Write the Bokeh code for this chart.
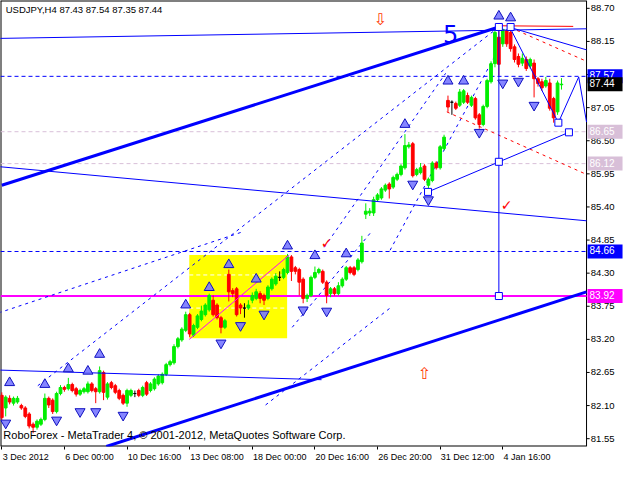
from bokeh.plotting import figure
from bokeh.models import Range1d, FixedTicker
from bokeh.core.properties import value
from bokeh.embed import file_html
from bokeh.resources import INLINE

# ---------------- data (H4 candles, bar index 0 = 3 Dec 2012) ----------------
opens = [82.27,82.06,82.22,82.14,82.16,82.10,82.06,81.96,81.79,81.74,81.79,81.87,82.22,82.19,82.00,82.30,82.40,82.38,82.45,82.38,
         82.29,82.33,82.33,82.46,82.38,82.33,82.65,82.24,82.48,82.43,82.35,82.27,82.14,82.27,82.30,82.35,82.27,82.48,82.35,82.38,
         82.46,82.48,82.62,82.78,82.81,83.08,83.19,83.35,83.61,83.27,83.40,83.53,83.61,83.69,83.85,83.77,83.56,83.40,84.28,84.01,
         84.04,83.77,83.72,83.72,83.85,83.88,83.96,83.93,83.88,84.04,84.12,84.23,84.23,84.31,84.57,84.39,84.36,84.20,83.88,83.93,
         84.23,84.31,84.33,84.15,83.96,84.04,83.96,84.09,84.20,84.39,84.39,84.36,84.49,85.28,85.30,85.30,85.52,85.55,85.68,85.78,
         85.73,85.86,85.94,86.05,86.40,86.45,85.94,85.97,86.08,85.76,85.84,86.13,86.05,86.37,87.17,87.14,87.12,87.09,87.14,87.25,
         87.09,87.20,86.93,86.77,87.07,87.48,87.78,88.22,88.11,88.33,88.30,88.06,87.90,87.79,87.85,87.74,87.79,87.53,87.48,87.41,
         87.46,87.20,86.98,87.43]
highs = [82.32,82.27,82.27,82.25,82.26,82.13,82.09,81.99,81.82,81.87,81.90,82.30,82.25,82.22,82.33,82.44,82.43,82.56,82.48,82.41,
         82.38,82.41,82.50,82.49,82.41,82.75,82.68,82.49,82.51,82.46,82.38,82.30,82.38,82.38,82.35,82.38,82.43,82.51,82.49,82.57,
         82.62,82.65,82.81,82.86,83.12,83.24,83.40,83.66,83.64,83.46,83.62,83.76,83.80,83.96,83.93,83.80,83.59,83.54,84.36,84.05,
         84.07,83.80,83.80,83.85,83.98,84.04,84.00,83.96,84.10,84.23,84.30,84.33,84.39,84.62,84.60,84.42,84.39,84.23,83.96,84.26,
         84.41,84.39,84.36,84.18,84.07,84.07,84.15,84.23,84.42,84.42,84.42,84.55,84.92,85.46,85.38,85.57,85.63,85.73,85.79,85.81,
         85.92,85.97,86.11,86.61,86.48,86.48,86.05,86.13,86.11,85.89,86.16,86.16,86.43,86.60,87.25,87.17,87.15,87.36,87.36,87.30,
         87.25,87.23,86.96,87.10,87.53,87.82,88.38,88.42,88.36,88.35,88.40,88.10,87.95,87.95,87.90,87.88,87.85,87.56,87.53,87.56,
         87.53,87.23,87.50,87.54]
lows = [81.86,81.92,82.12,82.10,82.13,82.03,81.89,81.72,81.64,81.70,81.76,81.84,82.06,81.96,81.97,82.27,82.33,82.35,82.32,82.25,
        82.26,82.30,82.30,82.32,82.14,82.30,82.19,82.20,82.37,82.29,82.19,82.11,82.08,82.24,82.24,82.24,82.24,82.26,82.32,82.35,
        82.43,82.45,82.59,82.75,82.78,83.05,83.16,83.32,83.24,83.24,83.37,83.50,83.58,83.66,83.58,83.53,83.30,83.37,83.83,83.90,
        83.58,83.62,83.56,83.69,83.80,83.85,83.80,83.77,83.85,84.01,84.09,84.17,84.20,84.28,84.17,84.28,83.93,83.80,83.82,83.90,
        84.20,84.28,84.12,83.80,83.90,83.93,83.93,84.06,84.17,84.28,84.25,84.33,84.46,85.20,85.25,85.25,85.49,85.52,85.65,85.54,
        85.70,85.83,85.91,86.02,86.37,85.89,85.91,85.94,85.83,85.68,85.81,86.02,86.02,86.34,86.98,86.93,87.01,87.06,87.11,87.11,
        87.06,86.85,86.70,86.74,87.04,87.45,87.72,87.58,88.06,88.06,87.98,87.80,87.72,87.74,87.66,87.70,87.22,87.40,87.33,87.38,
        87.00,86.80,86.93,87.35]
closes = [81.90,82.24,82.16,82.22,82.22,82.06,81.92,81.76,81.74,81.84,81.87,82.22,82.11,82.00,82.30,82.40,82.37,82.45,82.35,82.29,
          82.35,82.38,82.46,82.35,82.33,82.68,82.32,82.46,82.40,82.32,82.22,82.14,82.35,82.35,82.30,82.27,82.40,82.29,82.46,82.54,
          82.59,82.62,82.78,82.83,83.08,83.21,83.37,83.61,83.29,83.43,83.59,83.67,83.77,83.93,83.61,83.56,83.40,83.51,83.99,83.96,
          83.61,83.72,83.72,83.77,83.93,83.99,83.88,83.85,84.07,84.20,84.25,84.23,84.36,84.57,84.33,84.33,84.15,83.88,83.93,84.23,
          84.31,84.36,84.15,83.93,84.04,83.96,84.09,84.20,84.39,84.31,84.28,84.52,84.80,85.33,85.33,85.52,85.60,85.70,85.76,85.70,
          85.89,85.94,86.08,86.42,86.43,85.92,86.02,86.05,85.86,85.86,86.13,86.05,86.40,86.56,87.06,87.14,87.04,87.31,87.33,87.14,
          87.22,86.88,86.77,87.07,87.50,87.78,88.30,87.77,88.35,88.11,88.03,87.85,87.77,87.87,87.70,87.85,87.53,87.45,87.38,87.50,
          87.04,86.88,87.46,87.44]

time_ticks = [0, 16, 32, 48, 64, 80, 96, 112, 128]
time_labels = ["3 Dec 2012", "6 Dec 00:00", "10 Dec 16:00", "13 Dec 08:00", "18 Dec 00:00",
               "20 Dec 16:00", "26 Dec 20:00", "31 Dec 12:00", "4 Jan 16:00"]
# half label widths (in bars) so that each label starts at its tick, as in MetaTrader
label_half = [6.1, 6.4, 7.0, 7.0, 7.0, 7.0, 7.0, 7.0, 6.2]
price_ticks = [81.55, 82.10, 82.65, 83.20, 83.75, 84.30, 84.85, 85.40, 85.95, 86.50, 87.05, 87.60, 88.15, 88.70]

# marked price levels (tags on the price scale)
level_values = [87.57, 87.44, 86.65, 86.12, 84.66, 83.92]
level_texts = ["87.57", "87.44", "86.65", "86.12", "84.66", "83.92"]
level_colors = ["#0000ff", "#000000", "#d8bfd8", "#d8bfd8", "#0000ff", "#ff00ff"]

# fractals
up_fr_bars = [2, 11, 17, 22, 25, 47, 53, 58, 65, 73, 80, 88, 103, 114, 118, 127, 130]
up_fr_prices = [82.48, 82.45, 82.71, 82.67, 82.95, 83.77, 84.06, 84.44, 84.20, 84.75, 84.59, 84.62, 86.77, 87.49, 87.49, 88.57, 88.54]
dn_fr_bars = [1, 14, 20, 24, 31, 56, 61, 67, 77, 83, 105, 109, 122, 128, 132, 136]
dn_fr_prices = [81.81, 81.86, 82.00, 82.00, 81.94, 83.14, 83.43, 83.62, 83.69, 83.67, 85.78, 85.52, 86.64, 87.46, 87.49, 87.09]

# analysis objects (bar, price)
X_END = 149.4          # last visible bar position (price-scale line)
thick_up_x = [0, 127]; thick_up_y = [85.76, 88.39]
thick_lo_x = [26.7, X_END]; thick_lo_y = [81.42, 83.99]
top_line_x = [-0.8, X_END]; top_line_y = [88.20, 88.36]
mid_line_x = [-0.8, X_END]; mid_line_y = [86.07, 85.17]
low_line_x = [-0.8, 81.7]; low_line_y = [82.69, 82.53]
peak_red_x = [127, 146]; peak_red_y = [88.41, 88.40]
fan_x = [130, X_END]; fan_y = [88.38, 88.01]
zig_x = [130, 142.2, 147.4, X_END]; zig_y = [88.36, 86.80, 87.56, 86.81]
proj_x = [108.9, 144.9]; proj_y = [85.65, 86.64]
vert_x = [127, 127]; vert_y = [88.39, 83.92]
red1_x = [130, X_END]; red1_y = [88.38, 87.82]
red2_x = [113.7, X_END]; red2_y = [86.98, 85.94]
dot_lines = [
    ([-0.8, 61.7], [83.64, 84.99]),
    ([9.2, 127], [82.43, 88.39]),
    ([67.4, 99.2], [82.11, 83.72]),
    ([82.4, 113.4], [84.73, 87.62]),
    ([99.2, 125.9], [84.68, 87.90]),
    ([74.2, 94.2], [83.40, 84.97]),
]
box_left, box_right, box_top, box_bottom = 47.9, 72.9, 84.60, 83.22
box_levels = [84.27, 83.72]
box_diag_x = [47.9, 73.4]; box_diag_y = [83.20, 84.60]
square_x = [127, 130, 142.2, 144.9, 127, 108.9, 127]
square_y = [88.39, 88.39, 86.80, 86.64, 86.15, 85.65, 83.92]

FONT = "Liberation Sans"
BLUE = "#0000ff"
FS = "9.5px"
X0, X1 = -0.33, 159.1     # chart area plus the price-scale column
Y0, Y1 = 81.42, 88.83

p = figure(width=624, height=464, x_range=Range1d(X0, X1), y_range=Range1d(Y0, Y1),
           output_backend="svg", toolbar_location=None, y_axis_location=None,
           min_border_left=0, min_border_top=0, min_border_right=0, min_border_bottom=16)
p.background_fill_color = "white"
p.border_fill_color = "white"
p.outline_line_color = None
p.xgrid.visible = False
p.ygrid.visible = False

# time axis: labels centred so that each starts at its tick; tick marks as minor ticks
centers = [round(t + h, 1) for t, h in zip(time_ticks, label_half)]
p.xaxis.ticker = FixedTicker(ticks=centers, minor_ticks=time_ticks)
p.xaxis.major_label_overrides = {c: l for c, l in zip(centers, time_labels)}
p.xaxis.major_tick_line_color = None
p.xaxis.major_tick_in = 0
p.xaxis.major_tick_out = 3
p.xaxis.minor_tick_in = 0
p.xaxis.minor_tick_out = 3
p.xaxis.minor_tick_line_color = "black"
p.xaxis.axis_line_color = None
p.xaxis.major_label_text_font = FONT
p.xaxis.major_label_text_font_size = "9px"
p.xaxis.major_label_text_color = "black"
p.xaxis.major_label_standoff = 2

# chart border and price scale
p.line([X0, X0], [Y0, Y1], line_color="black", line_width=2)
p.line([X0, X_END], [Y1, Y1], line_color="black", line_width=2)
p.line([X0, X_END], [Y0, Y0], line_color="black", line_width=2)
p.line([X_END, X_END], [Y0, Y1], line_color="black", line_width=1)
p.segment(x0=[X_END] * len(price_ticks), y0=price_ticks, x1=[X_END + 0.8] * len(price_ticks), y1=price_ticks,
          line_color="black", line_width=1)
p.text(x=[X_END + 1.1] * len(price_ticks), y=price_ticks, text=[f"{v:.2f}" for v in price_ticks],
       text_color="black", text_font=value(FONT), text_font_size=FS, text_baseline="middle", text_align="left")

# yellow box
p.quad(left=[box_left], right=[box_right], top=[box_top], bottom=[box_bottom], fill_color="#ffff00", line_color=None)
for lv in box_levels:
    p.line([box_left, box_right], [lv, lv], line_color="white", line_dash="4 3", line_width=1)

# horizontal levels
for lv in level_values:
    if lv in (87.57, 84.66):
        p.line([X0, X_END], [lv, lv], line_color=BLUE, line_dash="4 3", line_width=1)
    elif lv in (86.65, 86.12):
        p.line([X0, X_END], [lv, lv], line_color="#d8bfd8", line_dash="4 3", line_width=1)
    elif lv == 83.92:
        p.line([X0, X_END], [lv, lv], line_color="#ff00ff", line_width=2)

# dotted channel lines
for xs, ys in dot_lines:
    p.line(xs, ys, line_color=BLUE, line_dash="3 4", line_width=1)

# red dotted
for xs, ys in ((red1_x, red1_y), (red2_x, red2_y)):
    p.line(xs, ys, line_color="#ff0000", line_dash="3 4", line_width=1)

# candles
cols = ["#00ee00" if c > o else ("#ff0000" if c < o else "#000000") for o, c in zip(opens, closes)]
bars = list(range(len(opens)))
tops = [max(o, c) for o, c in zip(opens, closes)]
bots = [min(o, c) for o, c in zip(opens, closes)]
p.segment(x0=bars, y0=lows, x1=bars, y1=highs, line_color=cols, line_width=1)
p.vbar(x=bars, width=0.7, top=tops, bottom=bots, fill_color=cols, line_color=cols, line_width=1)

# diagonal in box
p.line(box_diag_x, box_diag_y, line_color="#ff00ff", line_width=1)

# solid blue objects
p.line(thick_up_x, thick_up_y, line_color=BLUE, line_width=3)
p.line(thick_lo_x, thick_lo_y, line_color=BLUE, line_width=3)
p.line(top_line_x, top_line_y, line_color=BLUE, line_width=1)
p.line(mid_line_x, mid_line_y, line_color=BLUE, line_width=1)
p.line(low_line_x, low_line_y, line_color=BLUE, line_width=1)
p.line(peak_red_x, peak_red_y, line_color="#ff0000", line_width=1)
p.line(fan_x, fan_y, line_color=BLUE, line_width=1)
p.line(zig_x, zig_y, line_color=BLUE, line_width=1)
p.line(proj_x, proj_y, line_color=BLUE, line_width=1)
p.line(vert_x, vert_y, line_color=BLUE, line_width=1)
p.scatter(square_x, square_y, marker="square", size=7, fill_color="white", line_color=BLUE)

# fractals
p.scatter(up_fr_bars, up_fr_prices, marker="triangle", size=10, fill_color="#7878ff", line_color="#1010c0", fill_alpha=0.9)
p.scatter(dn_fr_bars, dn_fr_prices, marker="inverted_triangle", size=10, fill_color="#7878ff", line_color="#1010c0", fill_alpha=0.9)

# texts
p.text(x=[114.7], y=[88.27], text=["5"], text_color=BLUE, text_font=value("DejaVu Sans"), text_font_size="24px",
       text_align="center", text_baseline="alphabetic")
p.text(x=[96.7, 107.9], y=[88.51, 82.63], text=["⇩", "⇧"], text_color="#ff3300", text_font=value("DejaVu Sans"),
       text_font_size="16px", text_align="center", text_baseline="middle")
p.text(x=[83.0, 129.0], y=[84.80, 85.44], text=["✓", "✓"], text_color="#ff0000", text_font=value("DejaVu Sans"),
       text_font_size="14px", text_align="center", text_baseline="middle")
p.text(x=[1.0], y=[88.68], text=["USDJPY,H4  87.43 87.54 87.35 87.44"], text_color="black",
       text_font=value(FONT), text_font_size="9.5px", text_baseline="middle")
p.text(x=[0.4], y=[81.61], text=["RoboForex - MetaTrader 4, © 2001-2012, MetaQuotes Software Corp."],
       text_color="black", text_font=value(FONT), text_font_size="11px", text_baseline="middle")

# price tags on the scale
tag_kw = dict(x=[X_END + 0.25] * len(level_values), y=level_values, text=level_texts, text_color="white",
              text_font=value(FONT), text_font_size="10px", text_baseline="middle", text_align="left",
              background_fill_color=level_colors)
try:
    p.text(padding=[2, 8, 2, 4], **tag_kw)
except Exception:
    p.text(**tag_kw)

open("out.html", "w").write(file_html(p, INLINE))
